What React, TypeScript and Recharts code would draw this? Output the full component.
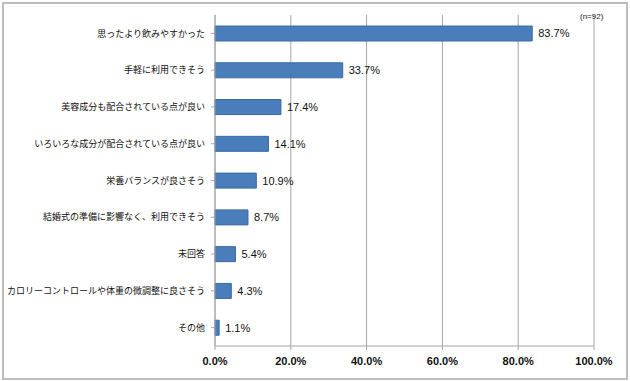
import { BarChart, Bar, XAxis, YAxis, CartesianGrid, LabelList } from "recharts";

const categories = [
  "思ったより飲みやすかった",
  "手軽に利用できそう",
  "美容成分も配合されている点が良い",
  "いろいろな成分が配合されている点が良い",
  "栄養バランスが良さそう",
  "結婚式の準備に影響なく、利用できそう",
  "未回答",
  "カロリーコントロールや体重の微調整に良さそう",
  "その他",
];

const percents = [83.7, 33.7, 17.4, 14.1, 10.9, 8.7, 5.4, 4.3, 1.1];

const xTicks = [0, 20, 40, 60, 80, 100];

const data = categories.map((name, i) => ({ name, value: percents[i] }));

const pct = (v: number) => `${Number(v).toFixed(1)}%`;

export default function App() {
  return (
    <div
      style={{
        position: "fixed",
        left: 0,
        top: 0,
        width: 630,
        height: 381,
        background: "#fff",
      }}
    >
      {/* outer frame */}
      <div
        style={{
          position: "absolute",
          left: 2,
          top: 2,
          width: 626,
          height: 378,
          boxSizing: "border-box",
          border: "2px solid #bdbdbd",
        }}
      />
      <BarChart
        width={630}
        height={381}
        data={data}
        layout="vertical"
        margin={{ top: 15, right: 36, bottom: 5, left: 0 }}
        barSize={15}
      >
        <CartesianGrid horizontal={false} stroke="#a6a6a6" />
        <XAxis
          type="number"
          domain={[0, 100]}
          ticks={xTicks}
          tickFormatter={pct}
          height={30}
          stroke="#a6a6a6"
          tickSize={4}
          tickMargin={7}
          tick={{
            fill: "#111",
            fontSize: 11,
            fontWeight: "bold",
            fontFamily: "Liberation Sans",
          }}
        />
        <YAxis
          type="category"
          dataKey="name"
          width={215}
          stroke="#a6a6a6"
          tickSize={4}
          tickMargin={6}
          interval={0}
          tick={{ fill: "#111", fontSize: 9, fontFamily: "Noto Sans CJK JP" }}
        />
        <Bar
          dataKey="value"
          fill="#4a7ebb"
          stroke="#3a6aa3"
          strokeWidth={1}
          isAnimationActive={false}
        >
          <LabelList
            dataKey="value"
            position="right"
            offset={6}
            formatter={(v: any) => pct(v)}
            fill="#111"
            fontSize={11}
            fontFamily="Liberation Sans"
          />
        </Bar>
      </BarChart>
      <div
        style={{
          position: "absolute",
          left: 580,
          top: 12,
          fontSize: 8,
          fontFamily: "Liberation Sans",
          color: "#222",
        }}
      >
        (n=92)
      </div>
    </div>
  );
}
